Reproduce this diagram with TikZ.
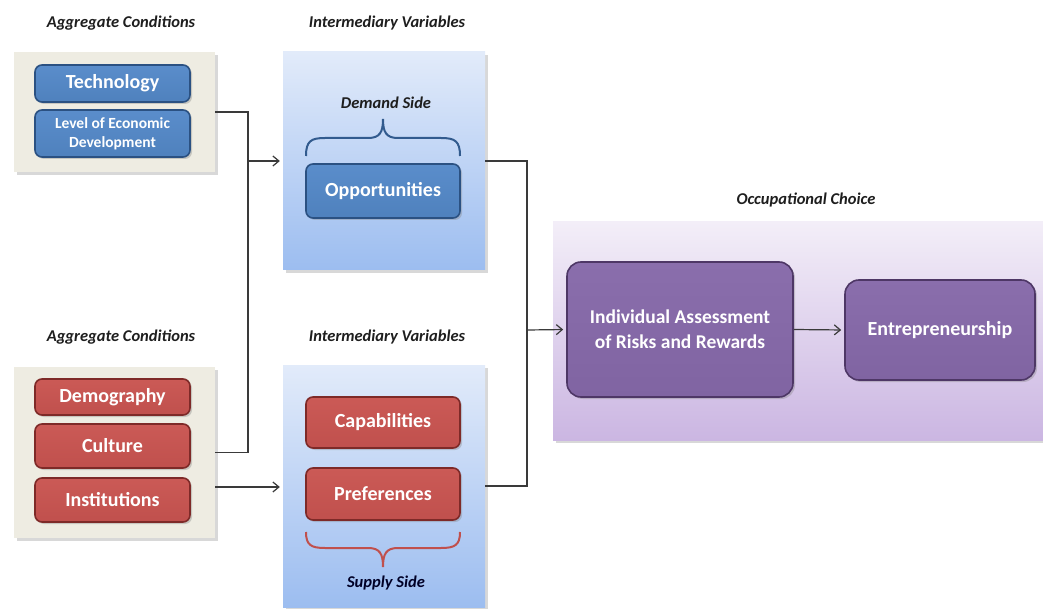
\documentclass[tikz,border=0pt]{standalone}
\usepackage{fontspec}
\setmainfont{Carlito}
\usetikzlibrary{shadows,arrows.meta}
\definecolor{beige}{HTML}{EEECE2}
\definecolor{bluetop}{HTML}{E2EBFA}
\definecolor{bluebot}{HTML}{9CBDF0}
\definecolor{purptop}{HTML}{F3EEF8}
\definecolor{purpbot}{HTML}{CBB6E2}
\definecolor{bfill}{HTML}{4F81BD}
\definecolor{bfilltop}{HTML}{5A8DCB}
\definecolor{bdraw}{HTML}{2B5182}
\definecolor{rfill}{HTML}{C0504D}
\definecolor{rfilltop}{HTML}{CB5A56}
\definecolor{rdraw}{HTML}{7E2A28}
\definecolor{pfill}{HTML}{8064A2}
\definecolor{pfilltop}{HTML}{8A6EAC}
\definecolor{pdraw}{HTML}{4E3766}
\definecolor{ttl}{HTML}{1E1E1E}
\definecolor{conn}{HTML}{3A3A3A}
\tikzset{
  panel/.style={rectangle, inner sep=0pt,
    drop shadow={shadow xshift=3pt, shadow yshift=-3pt, opacity=0.3}},
  box/.style={rectangle, rounded corners=7pt, line width=1.6pt, inner sep=0pt,
    text=white, font=\bfseries\fontsize{20}{22}\selectfont, align=center,
    drop shadow={shadow xshift=2pt, shadow yshift=-2pt, opacity=0.35}},
  boxb/.style={box, draw=bdraw, top color=bfilltop, bottom color=bfill},
  boxr/.style={box, draw=rdraw, top color=rfilltop, bottom color=rfill},
  boxp/.style={box, draw=pdraw, top color=pfilltop, bottom color=pfill, rounded corners=14pt},
  ttlnode/.style={text=ttl, font=\bfseries\itshape\fontsize{16.5}{18}\selectfont, inner sep=0pt},
  cline/.style={draw=conn, line width=1.2pt},
  carrow/.style={cline, -{Straight Barb[length=6pt,width=10pt]}, shorten >=3pt},
  bracestyle/.style={line width=2pt}
}
\begin{document}
\begin{tikzpicture}[x=1pt,y=-1pt]
\useasboundingbox (0,0) rectangle (1043,609);
\fill[white] (0,0) rectangle (1043,609);

% titles
\node[ttlnode] (t1) at (121,23) {Aggregate Conditions};
\node[ttlnode] (t2) at (387,23) {Intermediary Variables};
\node[ttlnode] (t3) at (121,337) {Aggregate Conditions};
\node[ttlnode] (t4) at (387,337) {Intermediary Variables};
\node[ttlnode] (t5) at (806,200) {Occupational Choice};

% panels
\node[panel, fill=beige, minimum width=201pt, minimum height=120pt] (beige1) at (114.5,112) {};
\node[panel, fill=beige, minimum width=201pt, minimum height=171pt] (beige2) at (114.5,452.5) {};
\node[panel, top color=bluetop, bottom color=bluebot, minimum width=202pt, minimum height=218pt] (blue1) at (384,161) {};
\node[panel, top color=bluetop, bottom color=bluebot, minimum width=202pt, minimum height=242pt] (blue2) at (384,486) {};
\node[panel, top color=purptop, bottom color=purpbot, minimum width=492pt, minimum height=218pt] (purp) at (799,331) {};

% boxes
\node[boxb, minimum width=155pt, minimum height=37pt] (tech) at (112.5,83.5) {Technology};
\node[boxb, minimum width=155pt, minimum height=47pt, font=\bfseries\fontsize{15.5}{19}\selectfont] (led) at (112.5,133.5) {Level of Economic\\Development};
\node[boxr, minimum width=155pt, minimum height=36pt] (demo) at (112.5,397) {Demography};
\node[boxr, minimum width=155pt, minimum height=44pt] (cult) at (112.5,446) {Culture};
\node[boxr, minimum width=155pt, minimum height=44pt] (inst) at (112.5,500) {Institutions};
\node[boxb, minimum width=154pt, minimum height=54pt] (opp) at (383,191) {Opportunities};
\node[boxr, minimum width=154pt, minimum height=51pt] (cap) at (383,422.5) {Capabilities};
\node[boxr, minimum width=154pt, minimum height=52pt] (pref) at (383,494) {Preferences};
\node[boxp, minimum width=226pt, minimum height=135pt, font=\bfseries\fontsize{19.5}{25}\selectfont] (ind) at (680,329.5) {Individual Assessment\\of Risks and Rewards};
\node[boxp, minimum width=190pt, minimum height=100pt] (ent) at (940,330) {Entrepreneurship};

% braces and side labels
\node[ttlnode] (dside) at (386,103) {Demand Side};
\draw[bracestyle, draw=bdraw!80!bfill]
  (306,156) .. controls (306,141) and (311,138) .. (325,138) -- (368,138)
  .. controls (380,138) and (383,132) .. (383,119)
  .. controls (383,132) and (386,138) .. (398,138) -- (441,138)
  .. controls (455,138) and (460,141) .. (460,156);
\node[ttlnode, text=black!85!blue] (sside) at (386,583) {Supply Side};
\draw[bracestyle, draw=rfill]
  (306,532) .. controls (306,545) and (311,548) .. (325,548) -- (368,548)
  .. controls (380,548) and (383,554) .. (383,567)
  .. controls (383,554) and (386,548) .. (398,548) -- (441,548)
  .. controls (455,548) and (460,545) .. (460,532);

% connectors
\coordinate (j1) at (248,161);
\coordinate (j2) at (527,330);
\draw[cline] (beige1.east) -| (j1) |- (beige2.east);
\draw[carrow] (j1) -- (blue1.west);
\draw[carrow] (beige2.east |- 0,487) -- (blue2.west |- 0,487);
\draw[cline] (blue1.east) -| (j2) |- (blue2.east);
\draw[carrow] (j2) -- (ind.west);
\draw[carrow] (ind.east) -- (ent.west);
\end{tikzpicture}
\end{document}
